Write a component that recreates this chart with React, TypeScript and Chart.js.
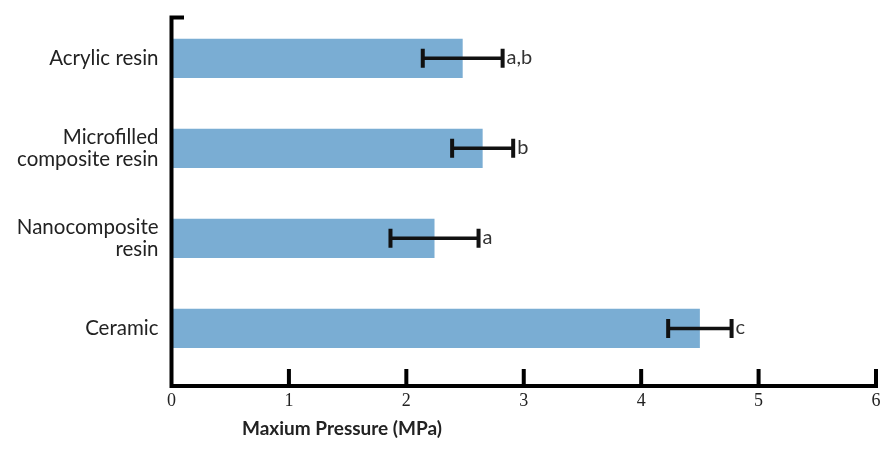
import React, { useEffect, useRef } from "react";
import { Chart, registerables } from "chart.js";

Chart.register(...registerables);

const categories = ["Acrylic resin", "Microfilled composite resin", "Nanocomposite resin", "Ceramic"];
const categoryLines = [["Acrylic resin"], ["Microfilled", "composite resin"], ["Nanocomposite", "resin"], ["Ceramic"]];
const meanPressure = [2.48, 2.65, 2.24, 4.5];
const sdPressure = [0.34, 0.26, 0.375, 0.27];
const groupLetters = ["a,b", "b", "a", "c"];
const xTicks = [0, 1, 2, 3, 4, 5, 6];
const xTitle = "Maxium Pressure (MPa)";

const BAR_COLOR = "rgb(122,173,211)";
const INK = "#111";

const axesPlugin = {
  id: "customAxes",
  afterDatasetsDraw(chart: any) {
    const { ctx, chartArea, scales } = chart;
    const xs = scales.x;
    const meta = chart.getDatasetMeta(0);
    ctx.save();
    // error bars + letters
    ctx.strokeStyle = INK;
    meta.data.forEach((el: any, i: number) => {
      const y = el.y;
      const lo = xs.getPixelForValue(meanPressure[i] - sdPressure[i]);
      const hi = xs.getPixelForValue(meanPressure[i] + sdPressure[i]);
      ctx.lineWidth = 3.5;
      ctx.beginPath();
      ctx.moveTo(lo, y);
      ctx.lineTo(hi, y);
      ctx.stroke();
      ctx.lineWidth = 4;
      ctx.beginPath();
      ctx.moveTo(lo, y - 9.5);
      ctx.lineTo(lo, y + 9.5);
      ctx.moveTo(hi, y - 9.5);
      ctx.lineTo(hi, y + 9.5);
      ctx.stroke();
      ctx.fillStyle = "#333";
      ctx.font = "20px Lato";
      ctx.textAlign = "left";
      ctx.textBaseline = "middle";
      ctx.fillText(groupLetters[i], hi + 4, y - 1);
    });
    // axes
    ctx.strokeStyle = "#000";
    ctx.lineWidth = 4;
    ctx.lineCap = "butt";
    ctx.beginPath();
    ctx.moveTo(chartArea.left, chartArea.top - 0.5);
    ctx.lineTo(chartArea.left, chartArea.bottom + 2);
    ctx.moveTo(chartArea.left - 2, chartArea.bottom);
    ctx.lineTo(chartArea.right + 2, chartArea.bottom);
    ctx.moveTo(chartArea.left - 2, chartArea.top + 1.5);
    ctx.lineTo(chartArea.left + 12.5, chartArea.top + 1.5);
    xTicks.forEach((v) => {
      if (v === xTicks[0]) return;
      const px = xs.getPixelForValue(v);
      ctx.moveTo(px, chartArea.bottom);
      ctx.lineTo(px, chartArea.bottom - 17);
    });
    ctx.stroke();
    // axis title
    ctx.fillStyle = "#222";
    ctx.font = "bold 19px Lato";
    ctx.textAlign = "center";
    ctx.textBaseline = "middle";
    ctx.fillText(xTitle, 342, 429);
    ctx.restore();
  },
};

export default function App() {
  const ref = useRef<HTMLCanvasElement | null>(null);
  useEffect(() => {
    if (!ref.current) return;
    const chart = new Chart(ref.current, {
      type: "bar",
      data: {
        labels: categories,
        datasets: [
          {
            data: meanPressure.map((v, i) => ({ x: v, y: i })) as any,
            backgroundColor: BAR_COLOR,
            borderWidth: 0,
            barPercentage: 0.435,
            categoryPercentage: 1,
          },
        ],
      },
      options: {
        indexAxis: "y",
        responsive: false,
        animation: false,
        layout: { padding: { top: 16, right: 4, left: 0, bottom: 0 } },
        plugins: { legend: { display: false }, tooltip: { enabled: false } },
        scales: {
          x: {
            type: "linear",
            min: xTicks[0],
            max: xTicks[xTicks.length - 1],
            offset: false,
            afterBuildTicks: (s: any) => {
              s.ticks = xTicks.map((v) => ({ value: v }));
            },
            grid: { display: false, drawTicks: false },
            border: { display: false },
            ticks: {
              padding: 4,
              color: "#222",
              font: { family: "Liberation Serif", size: 18 },
            },
            afterFit: (s: any) => {
              s.height = 66;
              s.paddingLeft = 0;
              s.paddingRight = 0;
            },
          },
          y: {
            type: "linear",
            reverse: true,
            offset: false,
            min: -0.47,
            max: 3.64,
            afterBuildTicks: (s: any) => {
              s.ticks = categories.map((_, i) => ({ value: i }));
            },
            grid: { display: false, drawTicks: false },
            border: { display: false },
            ticks: {
              padding: 13,
              color: "#222",
              font: { family: "Lato", size: 20.5, lineHeight: 1.08 },
              callback: (v: any) => categoryLines[v as number] ?? "",
            },
            afterFit: (s: any) => {
              s.width = 171.5;
              s.paddingTop = 0;
              s.paddingBottom = 0;
            },
          },
        },
      },
      plugins: [axesPlugin],
    });
    return () => chart.destroy();
  }, []);
  return (
    <div style={{ position: "fixed", left: 0, top: 0, width: 880, height: 452, background: "#fff" }}>
      <canvas ref={ref} width={880} height={452} style={{ width: 880, height: 452 }} />
    </div>
  );
}
